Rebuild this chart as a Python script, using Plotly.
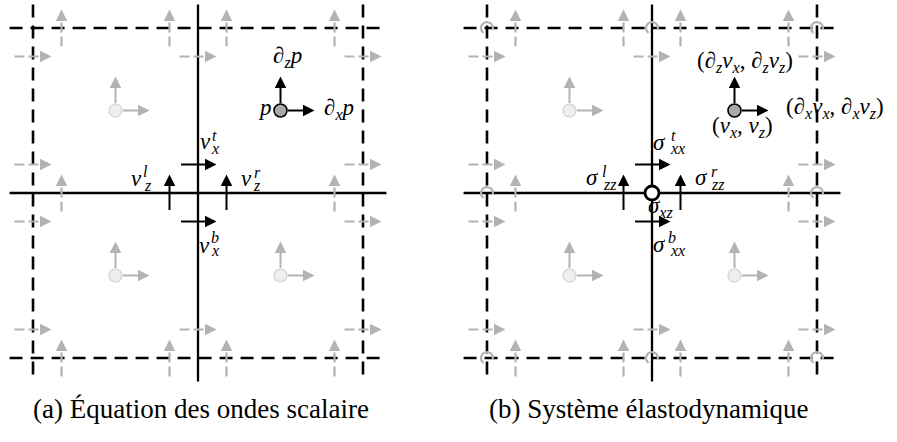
import numpy as np
import plotly.graph_objects as go

# ---------------- data ----------------
grid_lines = [0, 1, 2]                        # grid line positions (cell units)
grid_styles = ["dash", "solid", "dash"]       # outer dashed, middle solid
panel_offsets = [0.0, 2.7515]                 # horizontal offset of panel (a) and (b)
panel_captions = ["(a) Équation des ondes scalaire", "(b) Système élastodynamique"]
caption_shift = [0.021, -0.024]
cell_centers = [(0.5, 0.5), (1.5, 0.5), (0.5, 1.5), (1.5, 1.5)]
active_cell = (1.5, 0.5)
active_vertex = (1, 1)
stagger = 0.1727          # distance of staggered arrows from a vertex
arrow_len = 0.224         # length of staggered arrows
node_arrow_len = 0.206    # length of gradient arrows at cell centres
line_ext = 0.142          # overshoot of grid lines

# labels (pixel centre x, pixel centre y, text)
labels_a = [
    (287, 57, "∂<sub><i>z</i></sub><i>p</i>"),
    (265, 107, "<i>p</i>"),
    (339, 109, "∂<sub><i>x</i></sub><i>p</i>"),
]
stacked_a = [  # base, sup, sub
    ((205, 141, "v"), (214.5, 135, "t"), (215, 148, "x")),
    ((136, 178, "v"), (145.5, 171.5, "l"), (147.5, 185, "z")),
    ((246, 178, "v"), (257, 172, "r"), (257, 185, "z")),
    ((204.5, 245, "v"), (215, 237.5, "b"), (215, 250, "x")),
]
labels_b = [
    (745, 62, "(∂<sub><i>z</i></sub><i>v</i><sub><i>x</i></sub>, ∂<sub><i>z</i></sub><i>v</i><sub><i>z</i></sub>)"),
    (835, 108, "(∂<sub><i>x</i></sub><i>v</i><sub><i>x</i></sub>, ∂<sub><i>x</i></sub><i>v</i><sub><i>z</i></sub>)"),
    (742, 127, "(<i>v</i><sub><i>x</i></sub>, <i>v</i><sub><i>z</i></sub>)"),
    (660, 207, "<i>σ</i><sub><i>xz</i></sub>"),
]
stacked_b = [
    ((659.5, 142, "σ"), (673.5, 135, "t"), (677, 148, "xx")),
    ((592.5, 177, "σ"), (604.5, 171, "l"), (610, 184, "zz")),
    ((701.5, 177, "σ"), (714, 171.5, "r"), (717.5, 184, "zz")),
    ((659.5, 244, "σ"), (672, 237.5, "b"), (677, 250, "xx")),
]

# ---------------- geometry / styles ----------------
W, H = 897, 442
U = 165.0
X0, Y0 = 33.0, 28.0
BLACK = "#000000"
GRAY = "#b3b3b3"
LIGHT = "#eeeeee"
LIGHT_EDGE = "#d0d0d0"
NODE = "#aaaaaa"
FONT = "Liberation Serif, Times New Roman, DejaVu Serif, serif"
MATH_SIZE = 23
SCRIPT_SIZE = 16
CAPTION_SIZE = 27


def P(px, py):
    return (px - X0) / U, (py - Y0) / U


fig = go.Figure()
ann = []


def line(xs, ys, color, width, dash="solid"):
    fig.add_trace(go.Scatter(x=xs, y=ys, mode="lines", hoverinfo="skip",
                             line=dict(color=color, width=width, dash=dash),
                             showlegend=False))


def head(xt, yt, xtail, ytail, color, width=2, standoff=0):
    ann.append(dict(x=xt, y=yt, ax=xtail, ay=ytail, xref="x", yref="y",
                    axref="x", ayref="y", showarrow=True, arrowhead=2,
                    arrowsize=1.15, arrowwidth=width, arrowcolor=color,
                    startstandoff=standoff, text=""))


h = arrow_len / 2
hl = 0.045
for pi, ox in enumerate(panel_offsets):
    lo, hi = grid_lines[0], grid_lines[-1]
    # grid lines
    for g, st in zip(grid_lines, grid_styles):
        dash = "13px,8px" if st == "dash" else "solid"
        w = 2.6 if st == "dash" else 2.3
        line([ox + g, ox + g], [lo - line_ext, hi + line_ext], BLACK, w, dash)
        line([ox + lo - line_ext, ox + hi + line_ext], [g, g], BLACK, w, dash)

    # staggered arrows
    offs = []
    for a, b in zip(grid_lines[:-1], grid_lines[1:]):
        offs += [a + stagger, b - stagger]
    gx, gy = [], []
    for hy in grid_lines:
        for sx in offs:
            active = hy == active_vertex[1] and abs(sx - active_vertex[0]) < 0.5
            x = ox + sx
            if active:
                head(x, hy - h, x, hy + h, BLACK, 2)
            else:
                gx += [x, x, None]
                gy += [hy + h, hy - h + hl, None]
                head(x, hy - h, x, hy - h + hl, GRAY, 2)
    for vx in grid_lines:
        for sy in offs:
            active = vx == active_vertex[0] and abs(sy - active_vertex[1]) < 0.5
            x = ox + vx
            if active:
                head(x + h, sy, x - h, sy, BLACK, 2)
            else:
                gx += [x - h, x + h - hl, None]
                gy += [sy, sy, None]
                head(x + h, sy, x + h - hl, sy, GRAY, 2)
    line(gx, gy, GRAY, 2.2, "10px,4px")

    # cell nodes
    for (cx, cy) in cell_centers:
        is_act = (cx, cy) == active_cell
        col = BLACK if is_act else GRAY
        head(ox + cx, cy - node_arrow_len, ox + cx, cy, col, 2, 6)
        head(ox + cx + node_arrow_len, cy, ox + cx, cy, col, 2, 6)
        fig.add_trace(go.Scatter(
            x=[ox + cx], y=[cy], mode="markers", hoverinfo="skip", showlegend=False,
            marker=dict(size=13, color=NODE if is_act else LIGHT,
                        line=dict(color=BLACK if is_act else LIGHT_EDGE, width=1.6 if is_act else 1.2))))

    # vertex circles for panel (b)
    if pi == 1:
        r = 6.0 / U
        th = np.linspace(np.radians(-10), np.radians(235), 30)
        for vx in grid_lines:
            for vy in grid_lines:
                if (vx, vy) == active_vertex:
                    continue
                line(list(ox + vx + r * np.cos(th)), list(vy - r * np.sin(th)), GRAY, 2.2)
        fig.add_trace(go.Scatter(
            x=[ox + active_vertex[0]], y=[active_vertex[1]], mode="markers",
            hoverinfo="skip", showlegend=False,
            marker=dict(size=14, color="white", line=dict(color=BLACK, width=2.8))))

    # caption
    cx_cap = ox + (lo + hi) / 2 + caption_shift[pi]
    ann.append(dict(x=cx_cap, y=P(0, 409)[1], xref="x", yref="y", showarrow=False,
                    text=panel_captions[pi],
                    font=dict(family=FONT, size=CAPTION_SIZE, color=BLACK)))

# labels
for (px_, py_, txt) in labels_a + labels_b:
    x, y = P(px_, py_)
    ann.append(dict(x=x, y=y, xref="x", yref="y", showarrow=False, text=txt,
                    font=dict(family=FONT, size=MATH_SIZE, color=BLACK)))
for (base, sup, sub) in stacked_a + stacked_b:
    for (px_, py_, t), sz in ((base, MATH_SIZE), (sup, SCRIPT_SIZE), (sub, SCRIPT_SIZE)):
        x, y = P(px_, py_)
        ann.append(dict(x=x, y=y, xref="x", yref="y", showarrow=False,
                        text="<i>" + t + "</i>",
                        font=dict(family=FONT, size=sz, color=BLACK)))

fig.update_layout(
    width=W, height=H, margin=dict(l=0, r=0, t=0, b=0),
    paper_bgcolor="white", plot_bgcolor="white",
    xaxis=dict(range=[(0 - X0) / U, (W - X0) / U], visible=False, fixedrange=True),
    yaxis=dict(range=[(H - Y0) / U, (0 - Y0) / U], visible=False, fixedrange=True),
    annotations=ann,
)
fig.write_html("out.html", config={"displayModeBar": False},
               post_script="document.body.style.margin='0';document.body.style.overflow='hidden';")
